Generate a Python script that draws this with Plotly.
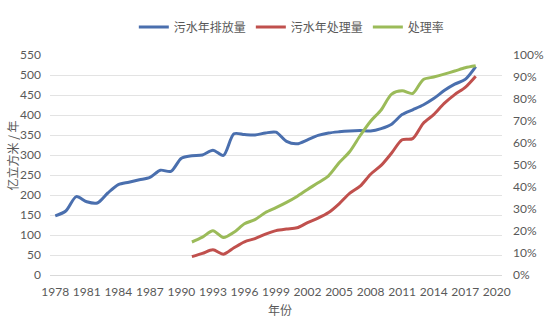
import plotly.graph_objects as go

years = list(range(1978, 2019))
discharge = [148, 160, 196, 183, 180, 205, 226, 232, 238, 244, 262, 259, 292, 298, 300, 312, 299, 353,
             351, 350, 355, 357, 334, 328, 338, 349, 355, 358, 360, 361, 360, 366, 377, 401, 413, 425,
             441, 461, 477, 489, 521]
treat_years = list(range(1991, 2019))
treated = [46, 54, 63, 52, 68, 83, 91, 102, 111, 115, 118, 131, 142, 156, 178, 204, 222, 252, 274,
           305, 338, 341, 379, 401, 429, 451, 469, 497]
rate = [0.150, 0.172, 0.201, 0.170, 0.194, 0.233, 0.252, 0.284, 0.306, 0.330, 0.357, 0.389, 0.419,
        0.451, 0.510, 0.560, 0.633, 0.699, 0.750, 0.822, 0.837, 0.825, 0.888, 0.900, 0.913, 0.927,
        0.942, 0.951]
x_ticks = list(range(1978, 2021, 3))

grey = "#595959"
tick_font = dict(family="Lato, Liberation Sans, sans-serif", size=12, color=grey)
cjk = "Noto Sans CJK SC"

fig = go.Figure()
fig.add_trace(go.Scatter(x=years, y=discharge, name="污水年排放量", mode="lines",
                         line=dict(color="#4A6FAE", width=3, shape="spline", smoothing=0.8)))
fig.add_trace(go.Scatter(x=treat_years, y=treated, name="污水年处理量", mode="lines",
                         line=dict(color="#C0504D", width=3, shape="spline", smoothing=0.8)))
fig.add_trace(go.Scatter(x=treat_years, y=rate, name="处理率", mode="lines", yaxis="y2",
                         line=dict(color="#9BBB59", width=3, shape="spline", smoothing=0.8)))

fig.update_layout(
    width=556, height=334,
    margin=dict(l=50, r=46, t=46, b=59),
    paper_bgcolor="white", plot_bgcolor="white",
    showlegend=True,
    legend=dict(orientation="h", x=0.535, xanchor="center", y=1.127, yanchor="middle",
                font=dict(family=cjk, size=12, color=grey), itemwidth=30, traceorder="normal",
                bgcolor="rgba(0,0,0,0)"),
    xaxis=dict(range=[1977.5, 2020.5], tickmode="array", tickvals=x_ticks,
               ticktext=[str(v) for v in x_ticks], tickfont=tick_font, showgrid=False,
               zeroline=False, showline=True, linecolor="#D9D9D9", linewidth=1, ticks="",
               ticklabelstandoff=6),
    yaxis=dict(range=[0, 550], dtick=50, tick0=0, tickfont=tick_font, showgrid=True,
               gridcolor="#E3E3E3", gridwidth=1, zeroline=False, showline=False, ticks="",
               ticklabelstandoff=8),
    yaxis2=dict(range=[0, 1], dtick=0.1, tick0=0, tickformat=".0%", overlaying="y", side="right",
                tickfont=tick_font, showgrid=False, zeroline=False, showline=False, ticks="",
                ticklabelstandoff=10),
    annotations=[
        dict(text="亿立方米 / 年", xref="paper", yref="paper", x=-50 / 460 + 12 / 460, y=(275 - 151) / 229,
             xanchor="center", yanchor="middle", textangle=-90, showarrow=False,
             font=dict(family=cjk, size=12, color=grey)),
        dict(text="年份", xref="paper", yref="paper", x=(284 - 50) / 460, y=-(311 - 275) / 229,
             xanchor="center", yanchor="middle", showarrow=False,
             font=dict(family=cjk, size=12, color=grey)),
    ],
)

fig.write_html("out.html")
